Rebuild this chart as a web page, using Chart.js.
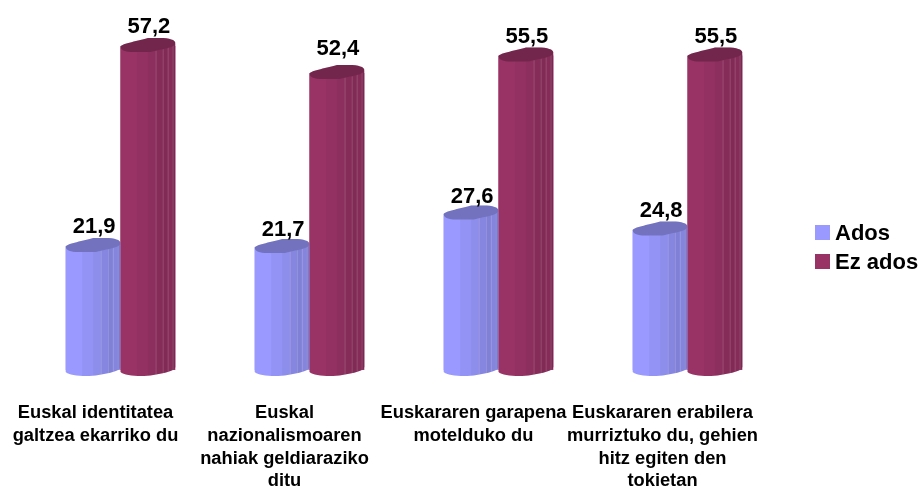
<!DOCTYPE html>
<html>
<head>
<meta charset="utf-8">
<style>
  html, body { margin: 0; padding: 0; background: #fff; }
  #wrap { width: 920px; height: 488px; }
</style>
<script src="https://cdn.jsdelivr.net/npm/chart.js@4"></script>
</head>
<body>
<div id="wrap"><canvas id="chart" width="920" height="488"></canvas></div>
<script>
const categories = [
  ['Euskal identitatea', 'galtzea ekarriko du'],
  ['Euskal', 'nazionalismoaren', 'nahiak geldiaraziko', 'ditu'],
  ['Euskararen garapena', 'motelduko du'],
  ['Euskararen erabilera', 'murriztuko du, gehien', 'hitz egiten den', 'tokietan']
];
const ados = [21.9, 21.7, 27.6, 24.8];
const ezAdos = [57.2, 52.4, 55.5, 55.5];

const blue = '#9999ff';
const wine = '#993366';
const fontFamily = '"Liberation Sans", Arial, sans-serif';

// facets on the right of each column: [start, end, darkness]
const facets = [
  [0, 0.3, 0], [0.3, 0.5, 0.04], [0.5, 0.64, 0.08],
  [0.64, 0.77, 0.12], [0.77, 0.86, 0.16], [0.86, 0.95, 0.13], [0.95, 1, 0.2]
];

// the 52,4 label sits a bit higher than the others
const labelNudge = { '1-1': -5, '0-1': 2, '0-2': 2 };

function bodyPath(ctx, l, w, top, base) {
  ctx.beginPath();
  ctx.moveTo(l, top + 2);
  ctx.lineTo(l, base + 2);
  ctx.bezierCurveTo(l + 4, base + 6, l + w * 0.4, base + 7, l + w * 0.6, base + 5);
  ctx.bezierCurveTo(l + w * 0.8, base + 3, l + w, base + 1, l + w, base - 3);
  ctx.lineTo(l + w, top - 2);
  ctx.lineTo(l + w * 0.5, top - 2);
  ctx.closePath();
}

const columnLook = {
  id: 'columnLook',
  afterDatasetsDraw(chart) {
    const ctx = chart.ctx;
    chart.data.datasets.forEach((ds, i) => {
      const color = ds.backgroundColor;
      chart.getDatasetMeta(i).data.forEach((bar) => {
        const w = bar.width, l = bar.x - w / 2, top = bar.y, base = bar.base;
        ctx.save();
        bodyPath(ctx, l, w, top, base);
        ctx.fillStyle = color;
        ctx.fill();
        ctx.clip();
        facets.forEach((f) => {
          ctx.fillStyle = 'rgba(0,0,0,' + f[2] + ')';
          ctx.fillRect(l + w * f[0], top - 10, w * (f[1] - f[0]), base - top + 30);
          if (f[0] >= 0.64) {
            ctx.fillStyle = 'rgba(255,255,255,0.16)';
            ctx.fillRect(l + w * f[0], top - 10, 1, base - top + 30);
          }
        });
        ctx.restore();

        // top cap
        ctx.beginPath();
        ctx.moveTo(l, top + 1);
        ctx.bezierCurveTo(l + 1, top - 3, l + w * 0.35, top - 5, l + w * 0.5, top - 8);
        ctx.lineTo(l + w * 0.72, top - 8);
        ctx.bezierCurveTo(l + w * 0.9, top - 8, l + w, top - 6, l + w, top - 3);
        ctx.bezierCurveTo(l + w, top + 2, l + w * 0.75, top + 3, l + w * 0.55, top + 6);
        ctx.lineTo(l + w * 0.22, top + 6);
        ctx.bezierCurveTo(l + w * 0.1, top + 6, l, top + 4, l, top + 1);
        ctx.closePath();
        ctx.fillStyle = color;
        ctx.fill();
        ctx.fillStyle = 'rgba(0,0,0,0.25)';
        ctx.fill();
      });
    });
    // value labels
    ctx.save();
    ctx.font = 'bold 22px ' + fontFamily;
    ctx.fillStyle = '#000';
    ctx.textAlign = 'center';
    ctx.textBaseline = 'middle';
    chart.data.datasets.forEach((ds, i) => {
      chart.getDatasetMeta(i).data.forEach((bar, j) => {
        const nudge = labelNudge[i + '-' + j] || 0;
        ctx.fillText(ds.data[j].toFixed(1).replace('.', ','), bar.x + 1, bar.y - 19 + nudge);
      });
    });
    // legend, gap between swatch and text is tighter than the built in one
    ctx.font = 'bold 22px ' + fontFamily;
    ctx.textAlign = 'left';
    chart.data.datasets.forEach((ds, i) => {
      const y = 233 + i * 29;
      ctx.fillStyle = ds.backgroundColor;
      ctx.fillRect(815, y - 8, 15, 15);
      ctx.fillStyle = '#000';
      ctx.fillText(ds.label, 835, y + 1);
    });
    ctx.restore();
  }
};

new Chart(document.getElementById('chart'), {
  type: 'bar',
  data: {
    labels: categories,
    datasets: [
      { label: 'Ados', data: ados, backgroundColor: blue },
      { label: 'Ez ados', data: ezAdos, backgroundColor: wine }
    ]
  },
  options: {
    responsive: false,
    animation: false,
    layout: { padding: { left: 26, top: 0, right: 0, bottom: 0 } },
    categoryPercentage: 0.58,
    barPercentage: 1,
    scales: {
      x: {
        grid: { display: false, drawTicks: false },
        border: { display: false },
        afterFit(scale) { scale.height = 118; },
        ticks: {
          padding: 32,
          autoSkip: false,
          maxRotation: 0,
          labelOffset: -25,
          color: '#000',
          font: { family: fontFamily, size: 18.3, weight: 'bold', lineHeight: 1.24 }
        }
      },
      y: {
        position: 'right',
        min: 0,
        max: 65.3,
        grid: { display: false },
        border: { display: false },
        ticks: { display: false },
        afterFit(scale) { scale.width = 138; }
      }
    },
    plugins: {
      tooltip: { enabled: false },
      legend: { display: false }
    }
  },
  plugins: [columnLook]
});
</script>
</body>
</html>
